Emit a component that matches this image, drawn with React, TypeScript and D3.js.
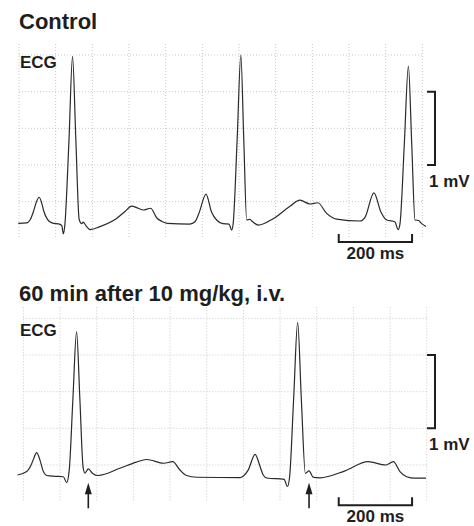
import * as d3 from 'd3';

type Pt = [number, number]; // [ms, mV on the recorder grid]

// ── traces ──
const controlTrace: Pt[] = [
  [-2, 0.205], [21, 0.21], [30, 0.25], [39, 0.36], [47, 0.49], [55, 0.56], [62, 0.48], [67, 0.38],
  [78, 0.256], [90, 0.21], [112, 0.19], [117, 0.17], [121, 0.06], [125, 0.18], [136, 1.3], [146, 2.48],
  [155, 1.35], [164, 0.26], [171, 0.2], [175, 0.22], [183, 0.17], [194, 0.12], [221, 0.16], [266, 0.27],
  [290, 0.37], [307, 0.44], [325, 0.41], [339, 0.386], [359, 0.41], [376, 0.277], [390, 0.23], [404, 0.205],
  [466, 0.195], [480, 0.226], [491, 0.345], [510, 0.604], [525, 0.36], [539, 0.25], [556, 0.2], [573, 0.195],
  [580, 0.113], [584, 0.195], [595, 1.35], [605, 2.5], [613, 1.35], [621, 0.25], [630, 0.26], [635, 0.236],
  [653, 0.18], [694, 0.27], [740, 0.44], [766, 0.52], [794, 0.468], [815, 0.485], [839, 0.34], [866, 0.263],
  [930, 0.236], [944, 0.29], [968, 0.62], [987, 0.36], [1003, 0.25], [1025, 0.226], [1034, 0.12], [1039, 0.195],
  [1051, 1.3], [1062, 2.35], [1071, 1.3], [1080, 0.25], [1090, 0.243], [1096, 0.21], [1110, 0.16],
];

const drugTrace: Pt[] = [
  [-4, 0.364], [21, 0.41], [33, 0.5], [41, 0.6], [48, 0.67], [57, 0.57], [65, 0.43], [76, 0.357],
  [98, 0.346], [121, 0.34], [130, 0.26], [137, 0.43], [147, 1.4], [157, 2.32], [166, 1.4], [175, 0.46],
  [180, 0.39], [189, 0.446], [201, 0.385], [216, 0.357], [275, 0.455], [320, 0.54], [348, 0.575], [395, 0.524],
  [419, 0.545], [439, 0.432], [457, 0.357], [485, 0.333], [603, 0.327], [612, 0.35], [625, 0.43], [644, 0.646],
  [657, 0.487], [666, 0.364], [676, 0.323], [723, 0.305], [732, 0.207], [738, 0.337], [749, 1.4], [760, 2.446],
  [770, 1.4], [781, 0.387], [791, 0.42], [803, 0.33], [821, 0.325], [889, 0.42], [952, 0.545], [1001, 0.5],
  [1021, 0.545], [1039, 0.41], [1057, 0.34], [1080, 0.32], [1110, 0.32],
];

const gridMs = d3.range(0, 1101, 100);
const gridMv = [0.5, 1, 1.5, 2, 2.5];
const drugArrowsMs = [189, 791];
const mvBar: [number, number] = [1, 2];
const msBar: [number, number] = [872, 1072];

const FONT = '"Liberation Sans", Arial, Helvetica, sans-serif';
const INK = '#1e1e1e';

const x = d3.scaleLinear().domain([0, 1100]).range([19, 422.33]);

interface PanelProps {
  top: number;
  title: string;
  titleY: number;
  labelY: number;
  trace: Pt[];
  gridShift: number;
  arrows: number[];
}

function Panel({ top, title, titleY, labelY, trace, gridShift, arrows }: PanelProps) {
  const y = d3.scaleLinear().domain([0, 2.5]).range([top + 238.33, top + 55]);
  const line = d3
    .line<Pt>()
    .x((d) => x(d[0]))
    .y((d) => y(d[1]))
    .curve(d3.curveMonotoneX);

  const barX = 435;
  const msY = top + 242;

  return (
    <g>
      <text x={19} y={titleY} fontFamily={FONT} fontWeight="bold" fontSize={22} fill={INK}>
        {title}
      </text>

      {/* ── grid ── */}
      <g stroke="#c8c8c8" strokeWidth={1} strokeDasharray="1,2">
        {gridMs.map((t) => (
          <line key={'v' + t} x1={x(t + gridShift)} x2={x(t + gridShift)} y1={y(2.65)} y2={y(0)} />
        ))}
        {gridMv.map((v) => (
          <line key={'h' + v} x1={x(gridShift)} x2={x(1100 + gridShift)} y1={y(v)} y2={y(v)} />
        ))}
      </g>

      <text x={20} y={labelY} fontFamily={FONT} fontWeight="bold" fontSize={17} fill={INK}>
        ECG
      </text>

      {/* ── trace ── */}
      <path d={line(trace) ?? ''} fill="none" stroke="#2a2a2a" strokeWidth={1.2} strokeLinejoin="round" />

      {/* ── arrows ── */}
      {arrows.map((t) => (
        <g key={'a' + t}>
          <line x1={x(t)} x2={x(t)} y1={top + 228} y2={top + 245} stroke={INK} strokeWidth={1.6} />
          <path
            d={`M${x(t)},${top + 219.5} L${x(t) - 3.5},${top + 231} L${x(t) + 3.5},${top + 231} Z`}
            fill={INK}
          />
        </g>
      ))}

      {/* ── 1 mV bar ── */}
      <path
        d={`M${barX - 8},${y(mvBar[1])} H${barX} V${y(mvBar[0])} H${barX - 8}`}
        fill="none"
        stroke={INK}
        strokeWidth={2}
      />
      <text x={429} y={top + 186.5} fontFamily={FONT} fontWeight="bold" fontSize={17} fill={INK}>
        1 mV
      </text>

      {/* ── 200 ms bar ── */}
      <path
        d={`M${x(msBar[0])},${msY - 8} V${msY} H${x(msBar[1])} V${msY - 8}`}
        fill="none"
        stroke={INK}
        strokeWidth={2}
      />
      <text
        x={(x(msBar[0]) + x(msBar[1])) / 2}
        y={top + 258.5}
        textAnchor="middle"
        fontFamily={FONT}
        fontWeight="bold"
        fontSize={17}
        fill={INK}
      >
        200 ms
      </text>
    </g>
  );
}

export default function App() {
  return (
    <svg
      width={474}
      height={526}
      style={{ position: 'absolute', left: 0, top: 0, background: '#fff' }}
    >
      <Panel
        top={0}
        title="Control"
        titleY={29}
        labelY={68}
        trace={controlTrace}
        gridShift={0}
        arrows={[]}
      />
      <Panel
        top={263.33}
        title="60 min after 10 mg/kg, i.v."
        titleY={300.5}
        labelY={336}
        trace={drugTrace}
        gridShift={12}
        arrows={drugArrowsMs}
      />
    </svg>
  );
}
